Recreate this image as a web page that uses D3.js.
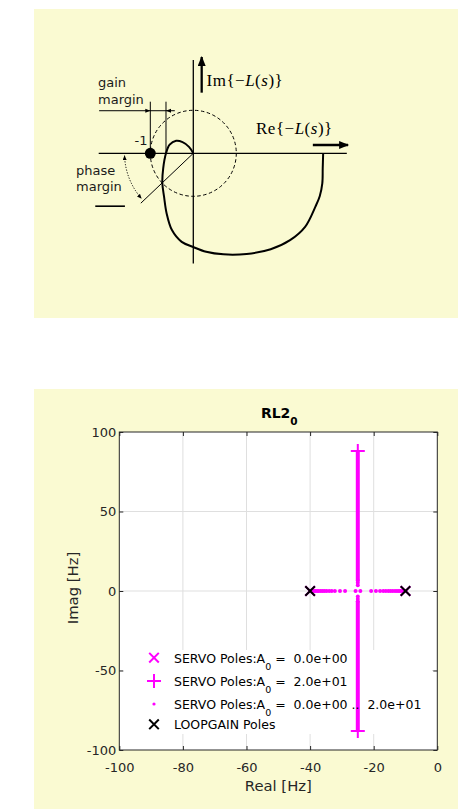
<!DOCTYPE html>
<html>
<head>
<meta charset="utf-8">
<script src="https://cdn.jsdelivr.net/npm/d3@7"></script>
<style>
  html, body { margin: 0; padding: 0; background: #ffffff; }
  svg { display: block; }
  text { white-space: pre; }
</style>
</head>
<body>
<svg id="fig" width="458" height="809"></svg>
<script>
// ---------- Nyquist sketch (units of |L|, unit circle radius = 1) ----------
const nyquistRe = [3.02, 3.01, 3.00, 2.94, 2.84, 2.60, 2.25, 1.80, 1.24, 0.70, 0.30, 0.00,
                   -0.27, -0.50, -0.62, -0.68, -0.72, -0.70, -0.635, -0.55, -0.40, -0.25, -0.10, 0.00];
const nyquistIm = [0.00, -0.35, -0.70, -1.00, -1.24, -1.71, -2.02, -2.23, -2.34, -2.35, -2.29, -2.18,
                   -2.06, -1.78, -1.40, -1.01, -0.69, -0.35, 0.00, 0.20, 0.29, 0.26, 0.15, 0.00];
const criticalPoint = [-1, 0];
const unitRadius = 1;
const gainCrossRe = -0.635;          // loop crossing of the negative real axis
const phaseLineEnd = [-1.22, -1.16]; // ray through the unit-circle crossing
const phaseArcRadius = 1.6;
const phaseArcDeg = [182, 221];

// ---------- Root locus ----------
const xTicks = [-100, -80, -60, -40, -20, 0];
const yTicks = [-100, -50, 0, 50, 100];
const loopgainPolesRe = [-40, -10];
const servoStartRe = [-40, -10];          // A0 = 0
const servoEndRe = [-25, -25];            // A0 = 20
const servoEndIm = [88, -88];
const locusAxisRe = [-40.0, -39.6, -39.2, -38.8, -38.3, -37.8, -37.3, -36.7, -36.1, -35.5, -34.8,
                     -34.0, -33.2, -32.2, -30.6, -29.0, -25.7,
                     -24.2, -20.8, -19.3, -18.0, -17.0, -16.2, -15.4, -14.7, -14.0, -13.3, -12.7,
                     -12.1, -11.6, -11.0, -10.5, -10.0];
const locusBranchRe = -25;
const locusBranchImDots = [3.6, 5.2, 6.4, -3.4, -5.0, -6.4];
const locusBranchSpans = [[6.4, 88], [-6.4, -88]];
const legendPrefix = ["SERVO Poles:A", "SERVO Poles:A", "SERVO Poles:A", "LOOPGAIN Poles"];
const legendSub = ["0", "0", "0", ""];
const legendSuffix = [" =  0.0e+00", " =  2.0e+01", " =  0.0e+00 ..  2.0e+01", ""];

const MAGENTA = "#ff00ff";
const PANEL = "#fafad2";
const AXC = "#262626";

const svg = d3.select("#fig");

// =================== upper panel: Nyquist sketch ===================
svg.append("rect").attr("x", 34).attr("y", 9).attr("width", 424).attr("height", 309).attr("fill", PANEL);

const nx = d3.scaleLinear().domain([0, 1]).range([193.3, 236.3]);
const ny = d3.scaleLinear().domain([0, 1]).range([153.3, 110.3]);
const nyq = svg.append("g");

const defs = svg.append("defs");
defs.append("marker").attr("id", "bigHead").attr("viewBox", "0 0 10 8")
  .attr("refX", 9).attr("refY", 4).attr("markerWidth", 10).attr("markerHeight", 8)
  .attr("markerUnits", "userSpaceOnUse").attr("orient", "auto")
  .append("path").attr("d", "M0,0 L10,4 L0,8 Z").attr("fill", "#000");
defs.append("marker").attr("id", "tinyHead").attr("viewBox", "0 0 6 5")
  .attr("refX", 5.5).attr("refY", 2.5).attr("markerWidth", 5).attr("markerHeight", 4)
  .attr("markerUnits", "userSpaceOnUse").attr("orient", "auto-start-reverse")
  .append("path").attr("d", "M0,0 L6,2.5 L0,5 Z").attr("fill", "#000");

// real and imaginary axes
nyq.append("line").attr("x1", nx(-2.2)).attr("x2", nx(3.57)).attr("y1", ny(0)).attr("y2", ny(0))
  .attr("stroke", "#000").attr("stroke-width", 1.3);
nyq.append("line").attr("x1", nx(0)).attr("x2", nx(0)).attr("y1", ny(2.17)).attr("y2", ny(-2.56))
  .attr("stroke", "#000").attr("stroke-width", 1.3);

// unit circle
nyq.append("circle").attr("cx", nx(0)).attr("cy", ny(0)).attr("r", nx(unitRadius) - nx(0))
  .attr("fill", "none").attr("stroke", "#000").attr("stroke-width", 1).attr("stroke-dasharray", "3.5 2.5");

// Nyquist curve
const nyqPts = nyquistRe.map((r, i) => [r, nyquistIm[i]]);
nyq.append("path").datum(nyqPts)
  .attr("d", d3.line().x(d => nx(d[0])).y(d => ny(d[1])).curve(d3.curveCatmullRom.alpha(0.5)))
  .attr("fill", "none").attr("stroke", "#000").attr("stroke-width", 2);

// gain margin dimension
[criticalPoint[0], gainCrossRe].forEach(re => {
  nyq.append("line").attr("x1", nx(re)).attr("x2", nx(re)).attr("y1", ny(0)).attr("y2", ny(1.2))
    .attr("stroke", "#000").attr("stroke-width", 1);
});
nyq.append("line").attr("x1", nx(-2.19)).attr("x2", nx(-0.43)).attr("y1", ny(0.99)).attr("y2", ny(0.99))
  .attr("stroke", "#000").attr("stroke-width", 1);
const gy = ny(0.99);
nyq.append("path").attr("d", `M${nx(-1)},${gy} L${nx(-1) - 5},${gy - 2} L${nx(-1) - 5},${gy + 2} Z`).attr("fill", "#000");
nyq.append("path").attr("d", `M${nx(gainCrossRe)},${gy} L${nx(gainCrossRe) + 5},${gy - 2} L${nx(gainCrossRe) + 5},${gy + 2} Z`).attr("fill", "#000");

// phase margin ray and arc
nyq.append("line").attr("x1", nx(0)).attr("y1", ny(0)).attr("x2", nx(phaseLineEnd[0])).attr("y2", ny(phaseLineEnd[1]))
  .attr("stroke", "#000").attr("stroke-width", 1);
const rad = d => d * Math.PI / 180;
const rPx = nx(phaseArcRadius) - nx(0);
const a0 = [nx(phaseArcRadius * Math.cos(rad(phaseArcDeg[0]))), ny(phaseArcRadius * Math.sin(rad(phaseArcDeg[0])))];
const a1 = [nx(phaseArcRadius * Math.cos(rad(phaseArcDeg[1]))), ny(phaseArcRadius * Math.sin(rad(phaseArcDeg[1])))];
nyq.append("path").attr("d", `M${a0[0]},${a0[1]} A${rPx},${rPx} 0 0 0 ${a1[0]},${a1[1]}`)
  .attr("fill", "none").attr("stroke", "#000").attr("stroke-width", 1).attr("stroke-dasharray", "1.2 1.6")
  .attr("marker-start", "url(#tinyHead)").attr("marker-end", "url(#tinyHead)");

// critical point
nyq.append("circle").attr("cx", nx(criticalPoint[0])).attr("cy", ny(criticalPoint[1])).attr("r", 5.5).attr("fill", "#000");

// direction arrows
nyq.append("line").attr("x1", nx(0.195)).attr("x2", nx(0.195)).attr("y1", ny(1.41)).attr("y2", ny(2.24))
  .attr("stroke", "#000").attr("stroke-width", 2.3).attr("marker-end", "url(#bigHead)");
nyq.append("line").attr("x1", nx(2.78)).attr("x2", nx(3.6)).attr("y1", ny(0.193)).attr("y2", ny(0.193))
  .attr("stroke", "#000").attr("stroke-width", 2.3).attr("marker-end", "url(#bigHead)");

// labels
const sans = "'DejaVu Sans', sans-serif";
const serif = "'Liberation Serif', 'DejaVu Serif', serif";
const lab = (x, y, s, anchor) => nyq.append("text").attr("x", x).attr("y", y).attr("font-family", sans)
  .attr("font-size", 13).attr("fill", "#1a1a1a").attr("text-anchor", anchor || "start").text(s);
lab(98, 87, "gain");
lab(98, 104, "margin");
lab(76, 174.5, "phase");
lab(76, 190.5, "margin");
lab(147.5, 145, "-1", "end");
nyq.append("line").attr("x1", nx(-2.28)).attr("x2", nx(-1.59)).attr("y1", ny(-1.23)).attr("y2", ny(-1.23))
  .attr("stroke", "#000").attr("stroke-width", 1.6);

function mathLabel(x, y, head) {
  const t = nyq.append("text").attr("x", x).attr("y", y).attr("font-family", serif)
    .attr("font-size", 17).attr("letter-spacing", 0.5).attr("fill", "#000");
  t.append("tspan").text(head + "{\u2212");
  t.append("tspan").attr("font-style", "italic").text("L");
  t.append("tspan").text("(");
  t.append("tspan").attr("font-style", "italic").text("s");
  t.append("tspan").text(")}");
}
mathLabel(206.5, 86, "Im");
mathLabel(256, 133.5, "Re");

// =================== lower panel: root locus ===================
svg.append("rect").attr("x", 34).attr("y", 389).attr("width", 424).attr("height", 420).attr("fill", PANEL);

const x = d3.scaleLinear().domain([-100, 0]).range([119.3, 437.3]);
const y = d3.scaleLinear().domain([-100, 100]).range([750, 432]);
const g = svg.append("g");

g.append("rect").attr("x", x(-100)).attr("y", y(100)).attr("width", x(0) - x(-100)).attr("height", y(-100) - y(100))
  .attr("fill", "#fff");

// grid
g.selectAll(".gx").data(xTicks.slice(1, -1)).join("line")
  .attr("x1", d => x(d)).attr("x2", d => x(d)).attr("y1", y(-100)).attr("y2", y(100))
  .attr("stroke", "#dfdfdf").attr("stroke-width", 1);
g.selectAll(".gy").data(yTicks.slice(1, -1)).join("line")
  .attr("y1", d => y(d)).attr("y2", d => y(d)).attr("x1", x(-100)).attr("x2", x(0))
  .attr("stroke", "#dfdfdf").attr("stroke-width", 1);

// legend background (no border)
g.append("rect").attr("x", 123).attr("y", 650).attr("width", 309).attr("height", 84).attr("fill", "#fff");

// locus: dense imaginary branch
locusBranchSpans.forEach(s => {
  g.append("line").attr("x1", x(locusBranchRe)).attr("x2", x(locusBranchRe)).attr("y1", y(s[0])).attr("y2", y(s[1]))
    .attr("stroke", MAGENTA).attr("stroke-width", 4);
});
g.selectAll(".bd").data(locusBranchImDots).join("circle")
  .attr("cx", x(locusBranchRe)).attr("cy", d => y(d)).attr("r", 2).attr("fill", MAGENTA);
g.selectAll(".ad").data(locusAxisRe).join("circle")
  .attr("cx", d => x(d)).attr("cy", y(0)).attr("r", 2).attr("fill", MAGENTA);

const crossPath = (cx, cy, h) => `M${cx - h},${cy - h}L${cx + h},${cy + h}M${cx - h},${cy + h}L${cx + h},${cy - h}`;
const plusPath = (cx, cy, h) => `M${cx - h},${cy}L${cx + h},${cy}M${cx},${cy - h}L${cx},${cy + h}`;

// A0 = 20 poles
servoEndRe.forEach((r, i) => {
  g.append("path").attr("d", plusPath(x(r), y(servoEndIm[i]), 7)).attr("stroke", MAGENTA).attr("stroke-width", 2).attr("fill", "none");
});
// A0 = 0 poles and loop-gain poles
servoStartRe.forEach(r => {
  g.append("path").attr("d", crossPath(x(r), y(0), 4.8)).attr("stroke", MAGENTA).attr("stroke-width", 2).attr("fill", "none");
});
loopgainPolesRe.forEach(r => {
  g.append("path").attr("d", crossPath(x(r), y(0), 4.8)).attr("stroke", "#000").attr("stroke-width", 2).attr("fill", "none");
});

// legend entries
const rowY = [657.7, 681, 704, 724.3];
const mx = 154;
g.append("path").attr("d", crossPath(mx, rowY[0], 4.8)).attr("stroke", MAGENTA).attr("stroke-width", 2).attr("fill", "none");
g.append("path").attr("d", plusPath(mx, rowY[1], 7)).attr("stroke", MAGENTA).attr("stroke-width", 2).attr("fill", "none");
g.append("circle").attr("cx", mx).attr("cy", rowY[2]).attr("r", 1.6).attr("fill", MAGENTA);
g.append("path").attr("d", crossPath(mx, rowY[3], 4.8)).attr("stroke", "#000").attr("stroke-width", 2).attr("fill", "none");
legendPrefix.forEach((p, i) => {
  const t = g.append("text").attr("x", 174).attr("y", rowY[i] + 4.8).attr("font-family", sans)
    .attr("font-size", 12.5).attr("fill", "#000");
  t.append("tspan").text(p);
  if (legendSub[i]) {
    t.append("tspan").attr("dy", 7).attr("font-size", 9.5).text(legendSub[i]);
    t.append("tspan").attr("dy", -7).text(legendSuffix[i]);
  }
});

// axes box and ticks
g.append("rect").attr("x", x(-100)).attr("y", y(100)).attr("width", x(0) - x(-100)).attr("height", y(-100) - y(100))
  .attr("fill", "none").attr("stroke", AXC).attr("stroke-width", 1);

const plainFmt = d => String(d);   // ASCII hyphen for negatives
function styleAxis(sel) {
  sel.select(".domain").remove();
  sel.selectAll(".tick line").attr("stroke", AXC);
  sel.selectAll(".tick text").attr("fill", AXC).attr("font-family", sans).attr("font-size", 13);
}
g.append("g").attr("transform", `translate(0,${y(-100)})`)
  .call(d3.axisBottom(x).tickValues(xTicks).tickSizeInner(-4).tickSizeOuter(0).tickPadding(12.5).tickFormat(plainFmt))
  .call(styleAxis);
g.append("g").attr("transform", `translate(${x(-100)},0)`)
  .call(d3.axisLeft(y).tickValues(yTicks).tickSizeInner(-4).tickSizeOuter(0).tickPadding(3).tickFormat(plainFmt))
  .call(styleAxis);
g.append("g").attr("transform", `translate(0,${y(100)})`)
  .call(d3.axisTop(x).tickValues(xTicks).tickSizeInner(-4).tickSizeOuter(0).tickFormat(""))
  .call(styleAxis);
g.append("g").attr("transform", `translate(${x(0)},0)`)
  .call(d3.axisRight(y).tickValues(yTicks).tickSizeInner(-4).tickSizeOuter(0).tickFormat(""))
  .call(styleAxis);

// axis labels and title
g.append("text").attr("x", (x(-100) + x(0)) / 2).attr("y", 790.5).attr("text-anchor", "middle")
  .attr("font-family", sans).attr("font-size", 14.8).attr("fill", AXC).text("Real [Hz]");
g.append("text").attr("transform", `translate(77.5,588) rotate(-90)`).attr("text-anchor", "middle")
  .attr("font-family", sans).attr("font-size", 14.8).attr("fill", AXC).text("Imag [Hz]");
const title = g.append("text").attr("x", (x(-100) + x(0)) / 2 + 1).attr("y", 417.5).attr("text-anchor", "middle")
  .attr("font-family", sans).attr("font-size", 14).attr("font-weight", "bold").attr("fill", "#000");
title.append("tspan").text("RL2");
title.append("tspan").attr("dy", 7).attr("font-size", 10.5).text("0");
</script>
</body>
</html>
